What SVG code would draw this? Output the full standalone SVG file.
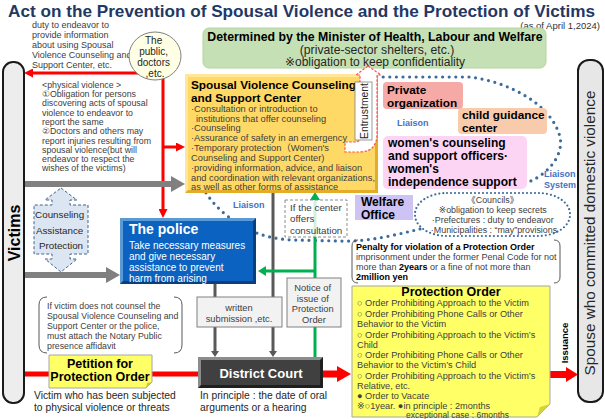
<svg xmlns="http://www.w3.org/2000/svg" width="605" height="419" viewBox="0 0 605 419">
<defs>
<marker id="mRed" markerUnits="userSpaceOnUse" markerWidth="9" markerHeight="9" viewBox="0 0 9 9" refX="0" refY="4.5" orient="auto"><path d="M0,0 L9,4.5 L0,9 Z" fill="#ff0000"/></marker>
<marker id="mGreen" markerUnits="userSpaceOnUse" markerWidth="8" markerHeight="10" viewBox="0 0 8 10" refX="0" refY="5" orient="auto"><path d="M0,0 L8,5 L0,10 Z" fill="#00b050"/></marker>
<marker id="mGrayS" markerUnits="userSpaceOnUse" markerWidth="6" markerHeight="8" viewBox="0 0 6 8" refX="0" refY="4" orient="auto"><path d="M0,0 L6,4 L0,8 Z" fill="#595959"/></marker>
<marker id="mGrayL" markerUnits="userSpaceOnUse" markerWidth="14" markerHeight="16" viewBox="0 0 14 16" refX="0" refY="8" orient="auto"><path d="M0,0 L14,8 L0,16 Z" fill="#808080"/></marker>
</defs>
<style>
text{font-family:"Liberation Sans","DejaVu Sans","Noto Sans CJK JP",Arial,sans-serif}
.gr{fill:#404040}
.b{font-weight:bold}
.c{text-anchor:middle}
.wh{fill:#ffffff}
.dots{fill:none;stroke:#3b6c9c;stroke-width:3.2;stroke-linecap:round;stroke-dasharray:0 6.6}
.box2{fill:#f2f2f2;stroke:#808080;stroke-width:1}
.lia{fill:#4472c4;font-weight:bold;font-size:9px}
.brk{fill:none;stroke:#595959;stroke-width:1}
</style>
<rect width="605" height="419" fill="#ffffff"/>

<g id="title">
<text x="8" y="17" font-size="17" class="b" fill="#1f3864" textLength="587" lengthAdjust="spacingAndGlyphs">Act on the Prevention of Spousal Violence and the Protection of Victims</text>
<text x="600" y="28.5" font-size="9.5" text-anchor="end" fill="#333333">(as of April 1,2024)</text>
</g>

<g id="liaison-loop">
<path class="dots" d="M 370 77 L 470 77 C 510 82, 552 105, 560 137 C 564 155, 548 175, 526 183"/>
<path class="dots" d="M 420 229 C 395 235, 368 242, 340 241 L 292 240 C 276 239, 262 236, 250 230 C 235 223, 214 209, 202 186"/>
</g>

<g id="connectors">
<line x1="163" y1="73" x2="33" y2="73" stroke="#ff0000" stroke-width="3" marker-end="url(#mRed)"/>
<line x1="163" y1="72" x2="163" y2="209" stroke="#ff0000" stroke-width="3" marker-end="url(#mRed)"/>
<line x1="163" y1="147" x2="176" y2="147" stroke="#ff0000" stroke-width="3" marker-end="url(#mRed)"/>
<line x1="24" y1="184" x2="171" y2="184" stroke="#808080" stroke-width="6" marker-end="url(#mGrayL)"/>
<line x1="24" y1="275" x2="106" y2="275" stroke="#808080" stroke-width="6" marker-end="url(#mGrayL)"/>
<line x1="215" y1="284" x2="215" y2="351" stroke="#595959" stroke-width="3" marker-end="url(#mGrayS)"/>
<line x1="273" y1="193" x2="273" y2="351" stroke="#595959" stroke-width="3" marker-end="url(#mGrayS)"/>
<line x1="315" y1="357" x2="315" y2="200" stroke="#00b050" stroke-width="3" marker-end="url(#mGreen)"/>
<line x1="316" y1="271" x2="266" y2="271" stroke="#00b050" stroke-width="3" marker-end="url(#mGreen)"/>
<line x1="24" y1="374" x2="198" y2="374" stroke="#ff0000" stroke-width="5"/>
<polygon points="323,370.5 337,370.5 337,366 351,374 337,382 337,377.5 323,377.5" fill="#ff0000"/>
<polygon points="550,371 566,371 566,367 578,374.5 566,382 566,378 550,378" fill="#ff0000"/>
<text transform="translate(568,343) rotate(-90)" class="b c" font-size="9.5" fill="#000">Issuance</text>
</g>

<g id="victims">
<rect x="3" y="62" width="21" height="341" rx="10" fill="#ededed" stroke="#1a1a1a" stroke-width="2"/>
<text transform="translate(20,233) rotate(-90)" class="b c" font-size="16" fill="#000">Victims</text>
</g>

<g id="spouse">
<rect x="578" y="60" width="25" height="342" rx="11" fill="#e7e7e7" stroke="#1a1a1a" stroke-width="2"/>
<text transform="translate(595,233) rotate(-90)" class="c" font-size="15.3" fill="#262626">Spouse  who committed domestic violence</text>
</g>

<g id="duty-note">
<text class="gr" font-size="9">
<tspan x="32" y="28">duty to endeavor to</tspan>
<tspan x="32" y="38">provide information</tspan>
<tspan x="32" y="48">about using Spousal</tspan>
<tspan x="32" y="58">Violence Counseling and</tspan>
<tspan x="32" y="68">Support Center, etc.</tspan>
</text>
</g>

<g id="public">
<ellipse cx="155" cy="56" rx="26" ry="24" fill="#ffffe5" stroke="#808080" stroke-width="1"/>
<text class="c" font-size="10" fill="#262626">
<tspan x="155" y="44">The</tspan>
<tspan x="155" y="55">public,</tspan>
<tspan x="155" y="66">doctors</tspan>
<tspan x="155" y="77">,etc.</tspan>
</text>
</g>

<g id="physical-note">
<text class="gr" font-size="8.8">
<tspan x="42" y="88">&lt;physical violence &gt;</tspan>
<tspan x="42" y="97">①Obligation for persons</tspan>
<tspan x="42" y="106">discovering acts of spousal</tspan>
<tspan x="42" y="116">violence to endeavor to</tspan>
<tspan x="42" y="125">report the same</tspan>
<tspan x="42" y="134">②Doctors and others may</tspan>
<tspan x="42" y="144">report injuries resulting from</tspan>
<tspan x="42" y="153">spousal violence(but will</tspan>
<tspan x="42" y="162">endeavor to respect the</tspan>
<tspan x="42" y="171">wishes of the victims)</tspan>
</text>
</g>

<g id="mhlw">
<rect x="203" y="28" width="343" height="40" rx="6" fill="#c5e0b4" stroke="#b4d49e"/>
<text x="375" y="41" class="b c" font-size="12.3" fill="#000">Determined by the Minister of Health, Labour and Welfare</text>
<text x="377" y="53.5" class="c" font-size="12.2" fill="#262626">(private-sector shelters, etc.)</text>
<text x="375" y="66" class="c" font-size="12" fill="#262626">※obligation to keep confidentiality</text>
</g>

<g id="center">
<rect x="185" y="74" width="193" height="119" fill="#e3ad28"/>
<polygon points="185,74 378,74 375,77 188,77 188,190 185,193" fill="#ffe699"/>
<rect x="188" y="77" width="187" height="113" fill="#ffd966"/>
<text class="b" font-size="11.8" fill="#000">
<tspan x="191" y="89">Spousal Violence Counseling</tspan>
<tspan x="191" y="102">and Support Center</tspan>
</text>
<text class="gr" font-size="9.3">
<tspan x="191" y="112">·Consultation or introduction to</tspan>
<tspan x="196" y="121.5">institutions that offer counseling</tspan>
<tspan x="191" y="131">·Counseling</tspan>
<tspan x="191" y="141">·Assurance of safety in an emergency</tspan>
<tspan x="191" y="151">·Temporary protection（Women's</tspan>
<tspan x="191" y="161">Counseling and Support Center)</tspan>
<tspan x="191" y="171">·providing information, advice, and liaison</tspan>
<tspan x="191" y="180.5">and coordination with relevant organizations,</tspan>
<tspan x="191" y="190">as well as other forms of assistance</tspan>
</text>
</g>

<g id="entrustment">
<path d="M 368 66 L 381 75 L 377 75 L 377 134 Q 377 152 359 152 L 345 152 L 345 142 L 356 142 Q 360 142 360 136 L 360 75 L 356 75 Z" fill="#ffffff" stroke="#ff5050" stroke-width="1.2" stroke-dasharray="2.5 1.5"/>
<rect x="355" y="82" width="17" height="58" fill="#ffffff" stroke="#808080" stroke-width="0.8"/>
<text transform="translate(367.5,111) rotate(-90)" class="c" font-size="10.4" fill="#262626">Entrustment</text>
</g>

<g id="private">
<rect x="383" y="82" width="80" height="27" rx="4" fill="#f6aaa6"/>
<text class="b" font-size="11.8" fill="#000"><tspan x="387" y="93.5">Private</tspan><tspan x="387" y="106.5">organization</tspan></text>
</g>

<g id="child">
<rect x="458" y="108" width="89" height="26" rx="4" fill="#f8cbad"/>
<text class="b" font-size="11.8" fill="#000"><tspan x="462" y="119">child guidance</tspan><tspan x="462" y="132">center</tspan></text>
</g>

<text x="397" y="126" class="lia">Liaison</text>

<g id="womens">
<rect x="383" y="136" width="144" height="53" rx="5" fill="#fcd5f5"/>
<text class="b" font-size="12" fill="#000">
<tspan x="388" y="147">women's counseling</tspan>
<tspan x="388" y="160">and support officers·</tspan>
<tspan x="388" y="173">women's</tspan>
<tspan x="388" y="186">independence support</tspan>
</text>
</g>

<text class="lia"><tspan x="544" y="177">Liaison</tspan><tspan x="544" y="188">System</tspan></text>

<g id="welfare">
<rect x="355" y="195" width="58" height="25" fill="#cdc3f4"/>
<text class="b" font-size="12" fill="#000"><tspan x="361" y="205.5">Welfare</tspan><tspan x="361" y="218.5">Office</tspan></text>
</g>

<g id="councils">
<rect x="415" y="193" width="155" height="43" rx="32" ry="21" fill="#ffffff" stroke="#3b6c9c" stroke-width="2.2" stroke-linecap="round" stroke-dasharray="0 4"/>
<text class="gr c" font-size="8.9">
<tspan x="494" y="203">《Councils》</tspan>
<tspan x="494" y="213">※obligation to keep secrets</tspan>
<tspan x="494" y="223">·Prefectures : duty to endeavor</tspan>
<tspan x="494" y="233">·Municipalities : “may”provisions</tspan>
</text>
</g>

<text x="233" y="208" class="lia">Liaison</text>

<g id="if-center">
<rect x="285" y="200" width="62" height="37" fill="#ffffff" fill-opacity="0.82" stroke="#808080" stroke-width="0.9" stroke-dasharray="3 2"/>
<text class="gr" font-size="9.8">
<tspan x="290" y="211">If the center</tspan>
<tspan x="290" y="222">offers</tspan>
<tspan x="290" y="233.5">consultation</tspan>
</text>
</g>

<g id="counseling-arrow">
<polygon points="61,188 77,200 70,200 70,205 88,205 88,254 70,254 70,259 77,259 61,272 45,259 52,259 52,254 34,254 34,205 52,205 52,200 45,200" fill="#dce6f2" stroke="#41638f" stroke-width="1" stroke-dasharray="3 2"/>
<text class="c" font-size="9.8" fill="#262626">
<tspan x="61" y="218">Counseling</tspan>
<tspan x="61" y="234">Assistance</tspan>
<tspan x="61" y="249">Protection</tspan>
</text>
</g>

<g id="police">
<rect x="120" y="218" width="136" height="66" fill="#0a3f7a"/>
<polygon points="120,218 256,218 253,221 123,221 123,281 120,284" fill="#5b9bd5"/>
<rect x="123" y="221" width="130" height="60" fill="#0b62c0"/>
<text x="129" y="234" class="b wh" font-size="14">The police</text>
<text class="wh" font-size="10">
<tspan x="129" y="249">Take necessary measures</tspan>
<tspan x="129" y="260">and give necessary</tspan>
<tspan x="129" y="271">assistance to prevent</tspan>
<tspan x="129" y="282">harm from arising</tspan>
</text>
</g>

<g id="notary-note">
<path class="brk" d="M 47 297 Q 39 297 39 305 L 39 345 Q 39 353 47 353 M 174 297 Q 182 297 182 305 L 182 345 Q 182 353 174 353" stroke="#808080"/>
<text class="gr" font-size="8.8">
<tspan x="47" y="309">If victim does not counsel the</tspan>
<tspan x="47" y="319">Spousal Violence Counseling and</tspan>
<tspan x="47" y="329">Support Center or the police,</tspan>
<tspan x="47" y="339">must attach the Notary Public</tspan>
<tspan x="47" y="349">presence affidavit</tspan>
</text>
</g>

<g id="written">
<rect x="197" y="297" width="85" height="30" class="box2"/>
<text class="gr c" font-size="9.3"><tspan x="239" y="310.5">written</tspan><tspan x="239" y="321.5">submission ,etc.</tspan></text>
</g>

<g id="notice">
<rect x="287" y="278" width="54" height="49" class="box2"/>
<text class="gr c" font-size="9.3">
<tspan x="314" y="291">Notice of</tspan>
<tspan x="314" y="301.5">issue of</tspan>
<tspan x="314" y="312">Protection</tspan>
<tspan x="314" y="322.5">Order</tspan>
</text>
</g>

<g id="court">
<rect x="198" y="357" width="125" height="31" fill="#1f1f1f"/>
<polygon points="198,357 323,357 320,360 201,360 201,385 198,388" fill="#8c8c8c"/>
<rect x="201" y="360" width="119" height="25" fill="#404040"/>
<text x="261" y="378" class="b c wh" font-size="13">District Court</text>
<text font-size="10.3" fill="#262626"><tspan x="200" y="399">In principle :  the date of oral</tspan><tspan x="200" y="411">arguments or a hearing</tspan></text>
</g>

<g id="petition">
<polygon points="49,355 152,355 152,382 146,388 49,388" fill="#ffff66" stroke="#a6a6a6" stroke-width="1"/>
<polygon points="146,388 147,383 152,382" fill="#cccc33"/>
<text class="b c" font-size="12.5" fill="#000"><tspan x="100" y="368">Petition for</tspan><tspan x="100" y="381">Protection Order</tspan></text>
<text font-size="10.3" fill="#262626"><tspan x="34" y="399">Victim who has been subjected</tspan><tspan x="34" y="411">to physical violence or threats</tspan></text>
</g>

<g id="penalty">
<path class="brk" d="M 358 240 Q 352 240 352 246 L 352 277 Q 352 283 358 283 M 554 240 Q 560 240 560 246 L 560 277 Q 560 283 554 283"/>
<text font-size="9" fill="#000" class="b" x="356" y="250">Penalty for violation of a Protection Order</text>
<text font-size="9" class="gr">
<tspan x="356" y="259.5">imprisonment under the former Penal Code for not</tspan>
<tspan x="356" y="269.5">more than <tspan class="b" fill="#000">2years</tspan> or a fine of not more than</tspan>
<tspan x="356" y="279.5" class="b" fill="#000">2million yen</tspan>
</text>
</g>

<g id="protection-order">
<polygon points="352,286 550,286 550,404 537,417 352,417" fill="#ffff66" stroke="#a6a6a6" stroke-width="1"/>
<polygon points="537,417 540,407 550,404" fill="#d4d43a"/>
<text x="451" y="296" class="b c" font-size="12.5" fill="#000">Protection Order</text>
<text class="gr" font-size="9.2">
<tspan x="357" y="306">○ Order Prohibiting Approach to the Victim</tspan>
<tspan x="357" y="316.5">○ Order Prohibiting Phone Calls or Other</tspan>
<tspan x="357" y="327">Behavior to the Victim</tspan>
<tspan x="357" y="337.5">○ Order Prohibiting Approach to the Victim’s</tspan>
<tspan x="357" y="348">Child</tspan>
<tspan x="357" y="358">○ Order Prohibiting Phone Calls or Other</tspan>
<tspan x="357" y="368">Behavior to the Victim’s Child</tspan>
<tspan x="357" y="378.5">○ Order Prohibiting Approach to the Victim’s</tspan>
<tspan x="357" y="389">Relative, etc.</tspan>
<tspan x="357" y="399">● Order to Vacate</tspan>
<tspan x="357" y="409">※○1year. ●in principle : 2months</tspan>
</text>
<text x="406" y="417.5" class="gr" font-size="8.5">exceptional case : 6months</text>
</g>
</svg>
